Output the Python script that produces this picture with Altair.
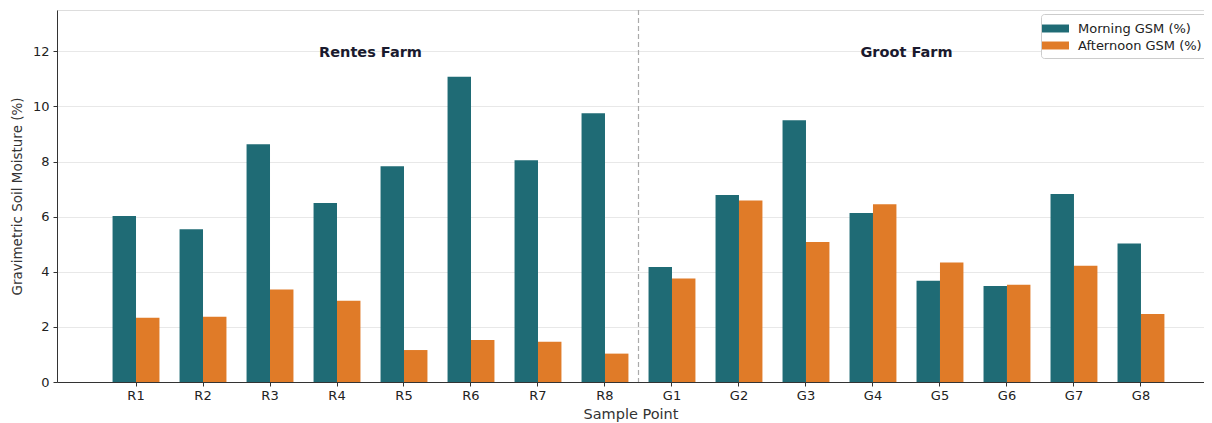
import altair as alt
import pandas as pd

samples = ["R1", "R2", "R3", "R4", "R5", "R6", "R7", "R8",
           "G1", "G2", "G3", "G4", "G5", "G6", "G7", "G8"]
morning = [6.02, 5.54, 8.63, 6.50, 7.83, 11.08, 8.05, 9.75,
           4.17, 6.79, 9.50, 6.13, 3.67, 3.48, 6.82, 5.03]
afternoon = [2.33, 2.37, 3.36, 2.95, 1.16, 1.52, 1.46, 1.03,
             3.76, 6.59, 5.08, 6.45, 4.34, 3.53, 4.22, 2.47]
series = ["Morning GSM (%)", "Afternoon GSM (%)"]
colors = ["#1f6b75", "#e07b28"]
farms = ["Rentes Farm", "Groot Farm"]
farm_anchor = ["R4", "G4"]   # label sits in gap after this sample
divider_after = "R8"

rows = []
for s, m, a in zip(samples, morning, afternoon):
    rows.append({"sample": s, "series": series[0], "value": m})
    rows.append({"sample": s, "series": series[1], "value": a})
df = pd.DataFrame(rows)

W, H = 1147, 372
PI, PO = 0.3, 0.71
step = W / (len(samples) - PI + 2 * PO)
gap_px = PI * step / 2

xscale = alt.Scale(domain=samples, paddingInner=PI, paddingOuter=PO, align=0.584)

bars = alt.Chart(df).mark_bar().encode(
    x=alt.X("sample:N", scale=xscale, sort=samples,
            axis=alt.Axis(title="Sample Point", labelAngle=0, grid=False,
                          tickSize=4, domainColor="#333333", tickColor="#333333",
                          labelColor="#222222", labelFontSize=13, titleFontSize=14.5,
                          titleFontWeight="normal", titleColor="#333333", titlePadding=5,
                          labelPadding=3)),
    xOffset=alt.XOffset("series:N", sort=series, scale=alt.Scale(domain=series, paddingInner=0, paddingOuter=0)),
    y=alt.Y("value:Q", scale=alt.Scale(domain=[0, 13.5], nice=False),
            axis=alt.Axis(title="Gravimetric Soil Moisture (%)", values=[0, 2, 4, 6, 8, 10, 12],
                          grid=True, gridColor="#e8e8e8", tickSize=4, domainColor="#333333",
                          tickColor="#333333", labelColor="#222222", labelFontSize=13,
                          titleFontSize=13.5, titleFontWeight="normal", titleColor="#333333",
                          titlePadding=8, labelPadding=4)),
    color=alt.Color("series:N", sort=series, scale=alt.Scale(domain=series, range=colors),
                    legend=alt.Legend(title=None, orient="none", legendX=984, legendY=4,
                                      symbolType="M-1.42,-0.42H1.42V0.42H-1.42Z", symbolSize=361,
                                      symbolStrokeWidth=0, labelFontSize=13,
                                      labelColor="#222222", padding=5, strokeColor="#cccccc",
                                      fillColor="#ffffff", cornerRadius=3, rowPadding=0,
                                      labelOffset=13)),
)

divider = alt.Chart(pd.DataFrame({"s": [divider_after]})).mark_rule(
    color="#aaaaaa", strokeDash=[5, 3], strokeWidth=1.2, xOffset=gap_px
).encode(x=alt.X("s:N", bandPosition=1))

labels = alt.Chart(pd.DataFrame({"s": farm_anchor, "t": farms, "y": [11.95, 11.95]})).mark_text(
    fontWeight="bold", fontSize=14.5, color="#1a1a2e", baseline="middle", align="center",
    xOffset=gap_px
).encode(x=alt.X("s:N", bandPosition=1), y="y:Q", text="t:N")

chart = alt.layer(bars, divider, labels).properties(
    width=W, height=H,
    padding={"left": 49, "top": 2, "right": 0, "bottom": 41},
    autosize=alt.AutoSizeParams(type="none"),
).configure_view(stroke=None).configure(font="DejaVu Sans")

chart.save("out.html", embed_options={"renderer": "svg", "actions": False})
